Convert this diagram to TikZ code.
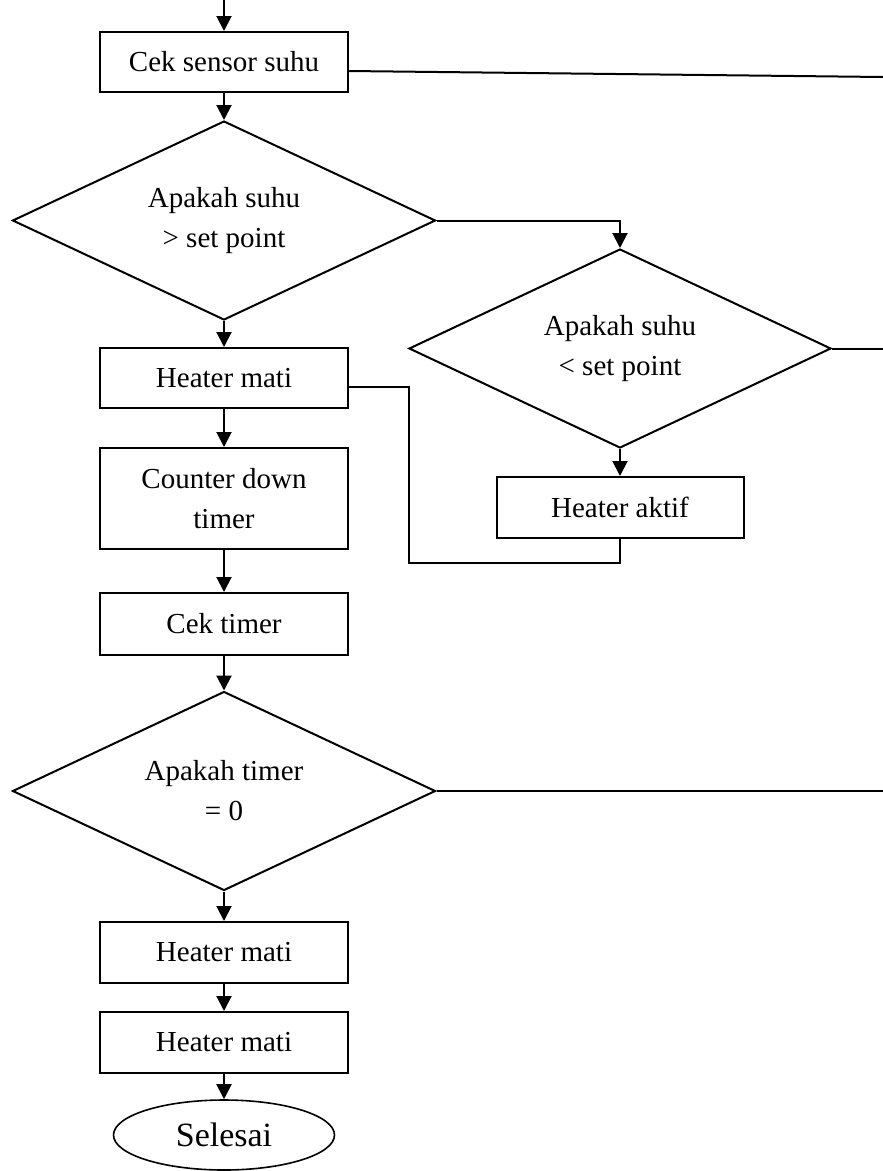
\documentclass[tikz,border=0pt]{standalone}
\usepackage{fontspec}
\setmainfont{Liberation Serif}
\usetikzlibrary{shapes.geometric,arrows.meta}
\begin{document}
\begin{tikzpicture}[x=1pt,y=-1pt,
  every node/.style={font=\fontsize{29}{40}\selectfont, align=center},
  proc/.style={draw, line width=2pt, minimum width=248pt, inner sep=0pt},
  dec/.style={draw, diamond, line width=2pt, minimum width=423pt, minimum height=199pt, inner sep=0pt, aspect=2.1},
  term/.style={draw, ellipse, line width=1.6pt, minimum width=221pt, minimum height=70pt, inner sep=0pt, font=\fontsize{34}{40}\selectfont},
  arr/.style={line width=2pt, -{Triangle[width=15pt,length=15pt]}},
  ln/.style={line width=2pt},
]
\useasboundingbox (0,0) rectangle (883,1171);

\node[proc, minimum height=60pt] (b1) at (224,62) {Cek sensor suhu};
\node[dec] (d1) at (224,220.5) {Apakah suhu\\\textgreater{} set point};
\node[proc, minimum height=60pt] (h1) at (224,378) {Heater mati};
\node[proc, minimum height=101pt] (c) at (224,498.5) {Counter down\\timer};
\node[proc, minimum height=62pt] (ct) at (224,624) {Cek timer};
\node[dec] (d3) at (224,791) {Apakah timer\\= 0};
\node[proc, minimum height=61pt] (h2) at (224,952.5) {Heater mati};
\node[proc, minimum height=61pt] (h3) at (224,1042.5) {Heater mati};
\node[term] (e) at (224,1135) {Selesai};
\node[dec, minimum width=422pt] (d2) at (620,348.5) {Apakah suhu\\\textless{} set point};
\node[proc, minimum width=247pt, minimum height=61pt] (ha) at (620,507.5) {Heater aktif};

\coordinate (start) at (224,0);
\coordinate (r1) at (883,77);
\coordinate (r2) at (883,348.5);
\coordinate (r3) at (883,791);
\coordinate (lp) at (409,563);

\draw[arr] (start) -- (b1);
\draw[arr] (b1) -- (d1);
\draw[arr] (d1) -- (h1);
\draw[arr] (h1) -- (c);
\draw[arr] (c) -- (ct);
\draw[arr] (ct) -- (d3);
\draw[arr] (d3) -- (h2);
\draw[arr] (h2) -- (h3);
\draw[arr] (h3) -- (e);
\draw[arr] (d1.east) -| (d2.north);
\draw[arr] (d2) -- (ha);
\draw[ln] (d2.east) -- (r2);
\draw[ln] ([yshift=-9pt]b1.east) -- (r1);
\draw[ln] ([yshift=-9pt]h1.east) -| (lp) -| (ha.south);
\draw[ln] (d3.east) -- (r3);
\end{tikzpicture}
\end{document}
